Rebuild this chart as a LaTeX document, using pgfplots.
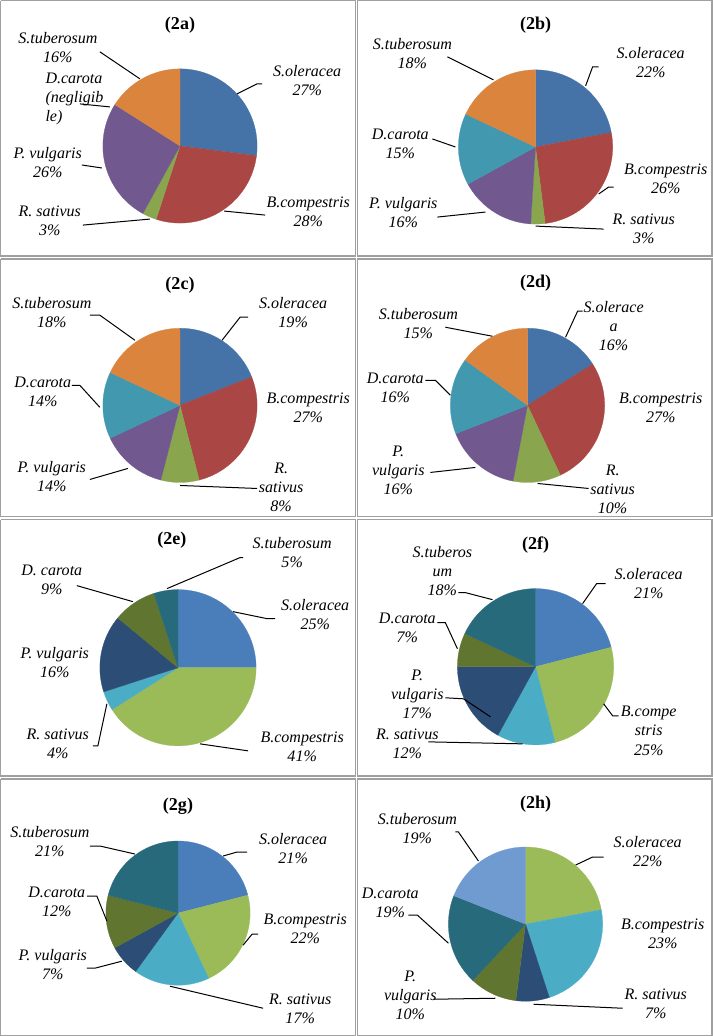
\documentclass[border=0pt]{standalone}
\usepackage{pgfplots}
\pgfplotsset{compat=1.18}
\usepackage{fontspec}
\setmainfont{Liberation Serif}
\definecolor{c1}{HTML}{4572A7}
\definecolor{c2}{HTML}{AA4643}
\definecolor{c3}{HTML}{89A54E}
\definecolor{c4}{HTML}{71588F}
\definecolor{c5}{HTML}{4198AF}
\definecolor{c6}{HTML}{DB843D}
\definecolor{e1}{HTML}{4A7EBB}
\definecolor{e2}{HTML}{9BBB59}
\definecolor{e3}{HTML}{4BACC6}
\definecolor{e4}{HTML}{2C4D75}
\definecolor{e5}{HTML}{5F7530}
\definecolor{e6}{HTML}{276A7C}
\definecolor{e7}{HTML}{6F9BD1}
\definecolor{frame}{HTML}{A0A0A0}
% #1 cx, #2 cy, #3 r, #4 start %, #5 end %, #6 colour
\newcommand{\pieslice}[6]{%
\addplot[fill=#6, draw=#6, line width=0.2pt, domain=#4:#5, samples=40, variable=\t]
  ({#1+#3*cos(90-3.6*\t)}, {#2-#3*sin(90-3.6*\t)}) -- (axis cs:#1,#2) -- cycle;}
\newcommand{\lab}{\fontsize{12}{14.25}\selectfont\itshape}
\newcommand{\ttl}{\fontsize{13.5}{15}\selectfont\bfseries}
\begin{document}
\begin{tikzpicture}
\begin{axis}[x=0.75pt, y=0.75pt, xmin=0, xmax=713, ymin=0, ymax=1036, y dir=reverse,
  hide axis, clip=false, at={(0,0)}, anchor=north west]
% panel frames
\addplot[frame, line width=1.1pt] coordinates {(1,1) (355,1) (355,256) (1,256) (1,1)};
\addplot[frame, line width=1.1pt] coordinates {(357,1) (711,1) (711,256) (357,256) (357,1)};
\addplot[frame, line width=1.1pt] coordinates {(1,259) (355,259) (355,516) (1,516) (1,259)};
\addplot[frame, line width=1.1pt] coordinates {(357,259) (711,259) (711,516) (357,516) (357,259)};
\addplot[frame, line width=1.1pt] coordinates {(1,519) (355,519) (355,775) (1,775) (1,519)};
\addplot[frame, line width=1.1pt] coordinates {(357,519) (711,519) (711,775) (357,775) (357,519)};
\addplot[frame, line width=1.1pt] coordinates {(1,778) (355,778) (355,1034) (1,1034) (1,778)};
\addplot[frame, line width=1.1pt] coordinates {(357,778) (711,778) (711,1034) (357,1034) (357,778)};

% ---------- 2a: 27 28 3 26 0 16
\pieslice{180}{146}{77}{0}{27}{c1}
\pieslice{180}{146}{77}{27}{55}{c2}
\pieslice{180}{146}{77}{55}{58}{c3}
\pieslice{180}{146}{77}{58}{84}{c4}
\pieslice{180}{146}{77}{84}{100}{c6}
\node[font=\ttl] at (axis cs:180,25) {(2a)};
\node[font=\lab, align=center] at (axis cs:307,80.5) {S.oleracea\\27\%};
\node[font=\lab, align=center] at (axis cs:308,211.5) {B.compestris\\28\%};
\node[font=\lab, align=center] at (axis cs:50,221) {R. sativus\\3\%};
\node[font=\lab, align=center] at (axis cs:48,162.5) {P. vulgaris\\26\%};
\node[font=\lab, align=left, anchor=west] at (axis cs:41,99) {D.carota\\(negligib\\le)};
\node[font=\lab, align=center] at (axis cs:58,47.5) {S.tuberosum\\16\%};
\addplot[black, line width=0.75pt] coordinates {(237,94) (257,84) (262,84)};
\addplot[black, line width=0.75pt] coordinates {(224,211) (265,215)};
\addplot[black, line width=0.75pt] coordinates {(83,225) (150,219)};
\addplot[black, line width=0.75pt] coordinates {(82,165) (102,168)};
\addplot[black, line width=0.75pt] coordinates {(80,104) (110,107)};
\addplot[black, line width=0.75pt] coordinates {(100,52) (140,79)};

% ---------- 2b: 22 26 3 16 15 18
\pieslice{535}{147}{77}{0}{22}{c1}
\pieslice{535}{147}{77}{22}{48}{c2}
\pieslice{535}{147}{77}{48}{51}{c3}
\pieslice{535}{147}{77}{51}{67}{c4}
\pieslice{535}{147}{77}{67}{82}{c5}
\pieslice{535}{147}{77}{82}{100}{c6}
\node[font=\ttl] at (axis cs:535,25) {(2b)};
\node[font=\lab, align=center] at (axis cs:650,62.5) {S.oleracea\\22\%};
\node[font=\lab, align=center] at (axis cs:665,179) {B.compestris\\26\%};
\node[font=\lab, align=center] at (axis cs:643,228.5) {R. sativus\\3\%};
\node[font=\lab, align=center] at (axis cs:403,212.5) {P. vulgaris\\16\%};
\node[font=\lab, align=center] at (axis cs:400,144) {D.carota\\15\%};
\node[font=\lab, align=center] at (axis cs:412,54) {S.tuberosum\\18\%};
\addplot[black, line width=0.75pt] coordinates {(585,86) (592,67) (598,67)};
\addplot[black, line width=0.75pt] coordinates {(598,194) (608,187) (613,187)};
\addplot[black, line width=0.75pt] coordinates {(535,226) (603,229)};
\addplot[black, line width=0.75pt] coordinates {(437,217) (485,212)};
\addplot[black, line width=0.75pt] coordinates {(432,139) (455,147)};
\addplot[black, line width=0.75pt] coordinates {(447,57) (493,80)};

% ---------- 2c: 19 27 8 14 14 18
\pieslice{180}{405}{77}{0}{19}{c1}
\pieslice{180}{405}{77}{19}{46}{c2}
\pieslice{180}{405}{77}{46}{54}{c3}
\pieslice{180}{405}{77}{54}{68}{c4}
\pieslice{180}{405}{77}{68}{82}{c5}
\pieslice{180}{405}{77}{82}{100}{c6}
\node[font=\ttl] at (axis cs:180,285) {(2c)};
\node[font=\lab, align=center] at (axis cs:293,312.5) {S.oleracea\\19\%};
\node[font=\lab, align=center] at (axis cs:308,407.5) {B.compestris\\27\%};
\node[font=\lab, align=center] at (axis cs:281,486.5) {R.\\sativus\\8\%};
\node[font=\lab, align=center] at (axis cs:52,476.5) {P. vulgaris\\14\%};
\node[font=\lab, align=center] at (axis cs:43,392) {D.carota\\14\%};
\node[font=\lab, align=center] at (axis cs:52,312) {S.tuberosum\\18\%};
\addplot[black, line width=0.75pt] coordinates {(222,340) (240,317) (248,317)};
\addplot[black, line width=0.75pt] coordinates {(180,485) (257,488)};
\addplot[black, line width=0.75pt] coordinates {(90,479) (128,468)};
\addplot[black, line width=0.75pt] coordinates {(72,385) (80,385) (100,407)};
\addplot[black, line width=0.75pt] coordinates {(90,315) (100,315) (135,340)};

% ---------- 2d: 16 27 10 16 16 15
\pieslice{527}{405}{77}{0}{16}{c1}
\pieslice{527}{405}{77}{16}{43}{c2}
\pieslice{527}{405}{77}{43}{53}{c3}
\pieslice{527}{405}{77}{53}{69}{c4}
\pieslice{527}{405}{77}{69}{85}{c5}
\pieslice{527}{405}{77}{85}{100}{c6}
\node[font=\ttl] at (axis cs:535,283) {(2d)};
\node[font=\lab, align=center] at (axis cs:613,326) {S.olerace\\a\\16\%};
\node[font=\lab, align=center] at (axis cs:660,407) {B.compestris\\27\%};
\node[font=\lab, align=center] at (axis cs:612,488.5) {R.\\sativus\\10\%};
\node[font=\lab, align=center] at (axis cs:398,470) {P.\\vulgaris\\16\%};
\node[font=\lab, align=center] at (axis cs:395,387.5) {D.carota\\16\%};
\node[font=\lab, align=center] at (axis cs:418,323) {S.tuberosum\\15\%};
\addplot[black, line width=0.75pt] coordinates {(565,337) (577,311) (582,311)};
\addplot[black, line width=0.75pt] coordinates {(537,483) (588,488)};
\addplot[black, line width=0.75pt] coordinates {(430,472) (475,467)};
\addplot[black, line width=0.75pt] coordinates {(425,380) (435,380) (450,395)};
\addplot[black, line width=0.75pt] coordinates {(445,327) (492,336)};

% ---------- 2e: 25 41 4 16 9 5
\pieslice{178}{667}{78}{0}{25}{e1}
\pieslice{178}{667}{78}{25}{66}{e2}
\pieslice{178}{667}{78}{66}{70}{e3}
\pieslice{178}{667}{78}{70}{86}{e4}
\pieslice{178}{667}{78}{86}{95}{e5}
\pieslice{178}{667}{78}{95}{100}{e6}
\node[font=\ttl] at (axis cs:172,540) {(2e)};
\node[font=\lab, align=center] at (axis cs:292,551.5) {S.tuberosum\\5\%};
\node[font=\lab, align=center] at (axis cs:315,613.5) {S.oleracea\\25\%};
\node[font=\lab, align=center] at (axis cs:302,746) {B.compestris\\41\%};
\node[font=\lab, align=center] at (axis cs:58,742.5) {R. sativus\\4\%};
\node[font=\lab, align=center] at (axis cs:55,661.5) {P. vulgaris\\16\%};
\node[font=\lab, align=center] at (axis cs:52,579) {D. carota\\9\%};
\addplot[black, line width=0.75pt] coordinates {(167,588) (240,557) (243,557)};
\addplot[black, line width=0.75pt] coordinates {(233,611) (267,618) (275,618)};
\addplot[black, line width=0.75pt] coordinates {(200,743) (248,750)};
\addplot[black, line width=0.75pt] coordinates {(107,703) (98,745) (93,745)};
\addplot[black, line width=0.75pt] coordinates {(77,585) (133,601)};

% ---------- 2f: 21 25 12 17 7 18
\pieslice{535}{666}{78}{0}{21}{e1}
\pieslice{535}{666}{78}{21}{46}{e2}
\pieslice{535}{666}{78}{46}{58}{e3}
\pieslice{535}{666}{78}{58}{75}{e4}
\pieslice{535}{666}{78}{75}{82}{e5}
\pieslice{535}{666}{78}{82}{100}{e6}
\node[font=\ttl] at (axis cs:535,545) {(2f)};
\node[font=\lab, align=center] at (axis cs:648,582.5) {S.oleracea\\21\%};
\node[font=\lab, align=center] at (axis cs:648,730) {B.compe\\stris\\25\%};
\node[font=\lab, align=center] at (axis cs:407,742.5) {R. sativus\\12\%};
\node[font=\lab, align=center] at (axis cs:417,693.5) {P.\\vulgaris\\17\%};
\node[font=\lab, align=center] at (axis cs:407,627.5) {D.carota\\7\%};
\node[font=\lab, align=center] at (axis cs:442,570) {S.tuberos\\um\\18\%};
\addplot[black, line width=0.75pt] coordinates {(582,603) (596,583) (605,583)};
\addplot[black, line width=0.75pt] coordinates {(603,703) (612,715) (618,715)};
\addplot[black, line width=0.75pt] coordinates {(428,741) (522,743)};
\addplot[black, line width=0.75pt] coordinates {(445,697) (463,698) (490,716)};
\addplot[black, line width=0.75pt] coordinates {(437,622) (445,622) (457,648)};
\addplot[black, line width=0.75pt] coordinates {(458,592) (465,592) (492,599)};

% ---------- 2g: 21 22 17 7 12 21
\pieslice{178}{912}{72}{0}{21}{e1}
\pieslice{178}{912}{72}{21}{43}{e2}
\pieslice{178}{912}{72}{43}{60}{e3}
\pieslice{178}{912}{72}{60}{67}{e4}
\pieslice{178}{912}{72}{67}{79}{e5}
\pieslice{178}{912}{72}{79}{100}{e6}
\node[font=\ttl] at (axis cs:178,805) {(2g)};
\node[font=\lab, align=center] at (axis cs:293,847.5) {S.oleracea\\21\%};
\node[font=\lab, align=center] at (axis cs:305,927.5) {B.compestris\\22\%};
\node[font=\lab, align=center] at (axis cs:300,1007.5) {R. sativus\\17\%};
\node[font=\lab, align=center] at (axis cs:53,963.5) {P. vulgaris\\7\%};
\node[font=\lab, align=center] at (axis cs:57,901) {D.carota\\12\%};
\node[font=\lab, align=center] at (axis cs:50,841) {S.tuberosum\\21\%};
\addplot[black, line width=0.75pt] coordinates {(223,855) (237,851) (247,851)};
\addplot[black, line width=0.75pt] coordinates {(243,944) (252,933) (258,933)};
\addplot[black, line width=0.75pt] coordinates {(170,985) (263,1007)};
\addplot[black, line width=0.75pt] coordinates {(87,967) (95,967) (122,960)};
\addplot[black, line width=0.75pt] coordinates {(87,895) (97,895) (107,920)};
\addplot[black, line width=0.75pt] coordinates {(90,845) (100,845) (135,853)};

% ---------- 2h: 22 23 7 10 19 19
\pieslice{525}{923}{77}{0}{22}{e2}
\pieslice{525}{923}{77}{22}{45}{e3}
\pieslice{525}{923}{77}{45}{52}{e4}
\pieslice{525}{923}{77}{52}{62}{e5}
\pieslice{525}{923}{77}{62}{81}{e6}
\pieslice{525}{923}{77}{81}{100}{e7}
\node[font=\ttl] at (axis cs:535,803) {(2h)};
\node[font=\lab, align=center] at (axis cs:647,851) {S.oleracea\\22\%};
\node[font=\lab, align=center] at (axis cs:662,932.5) {B.compestris\\23\%};
\node[font=\lab, align=center] at (axis cs:655,1003) {R. sativus\\7\%};
\node[font=\lab, align=center] at (axis cs:410,994) {P.\\vulgaris\\10\%};
\node[font=\lab, align=center] at (axis cs:390,901.5) {D.carota\\19\%};
\node[font=\lab, align=center] at (axis cs:417,827.5) {S.tuberosum\\19\%};
\addplot[black, line width=0.75pt] coordinates {(575,864) (592,856) (603,856)};
\addplot[black, line width=0.75pt] coordinates {(533,1003) (622,1007)};
\addplot[black, line width=0.75pt] coordinates {(433,998) (495,997)};
\addplot[black, line width=0.75pt] coordinates {(408,914) (417,914) (448,942)};
\addplot[black, line width=0.75pt] coordinates {(455,831) (458,831) (478,860)};
\end{axis}
\end{tikzpicture}
\end{document}
